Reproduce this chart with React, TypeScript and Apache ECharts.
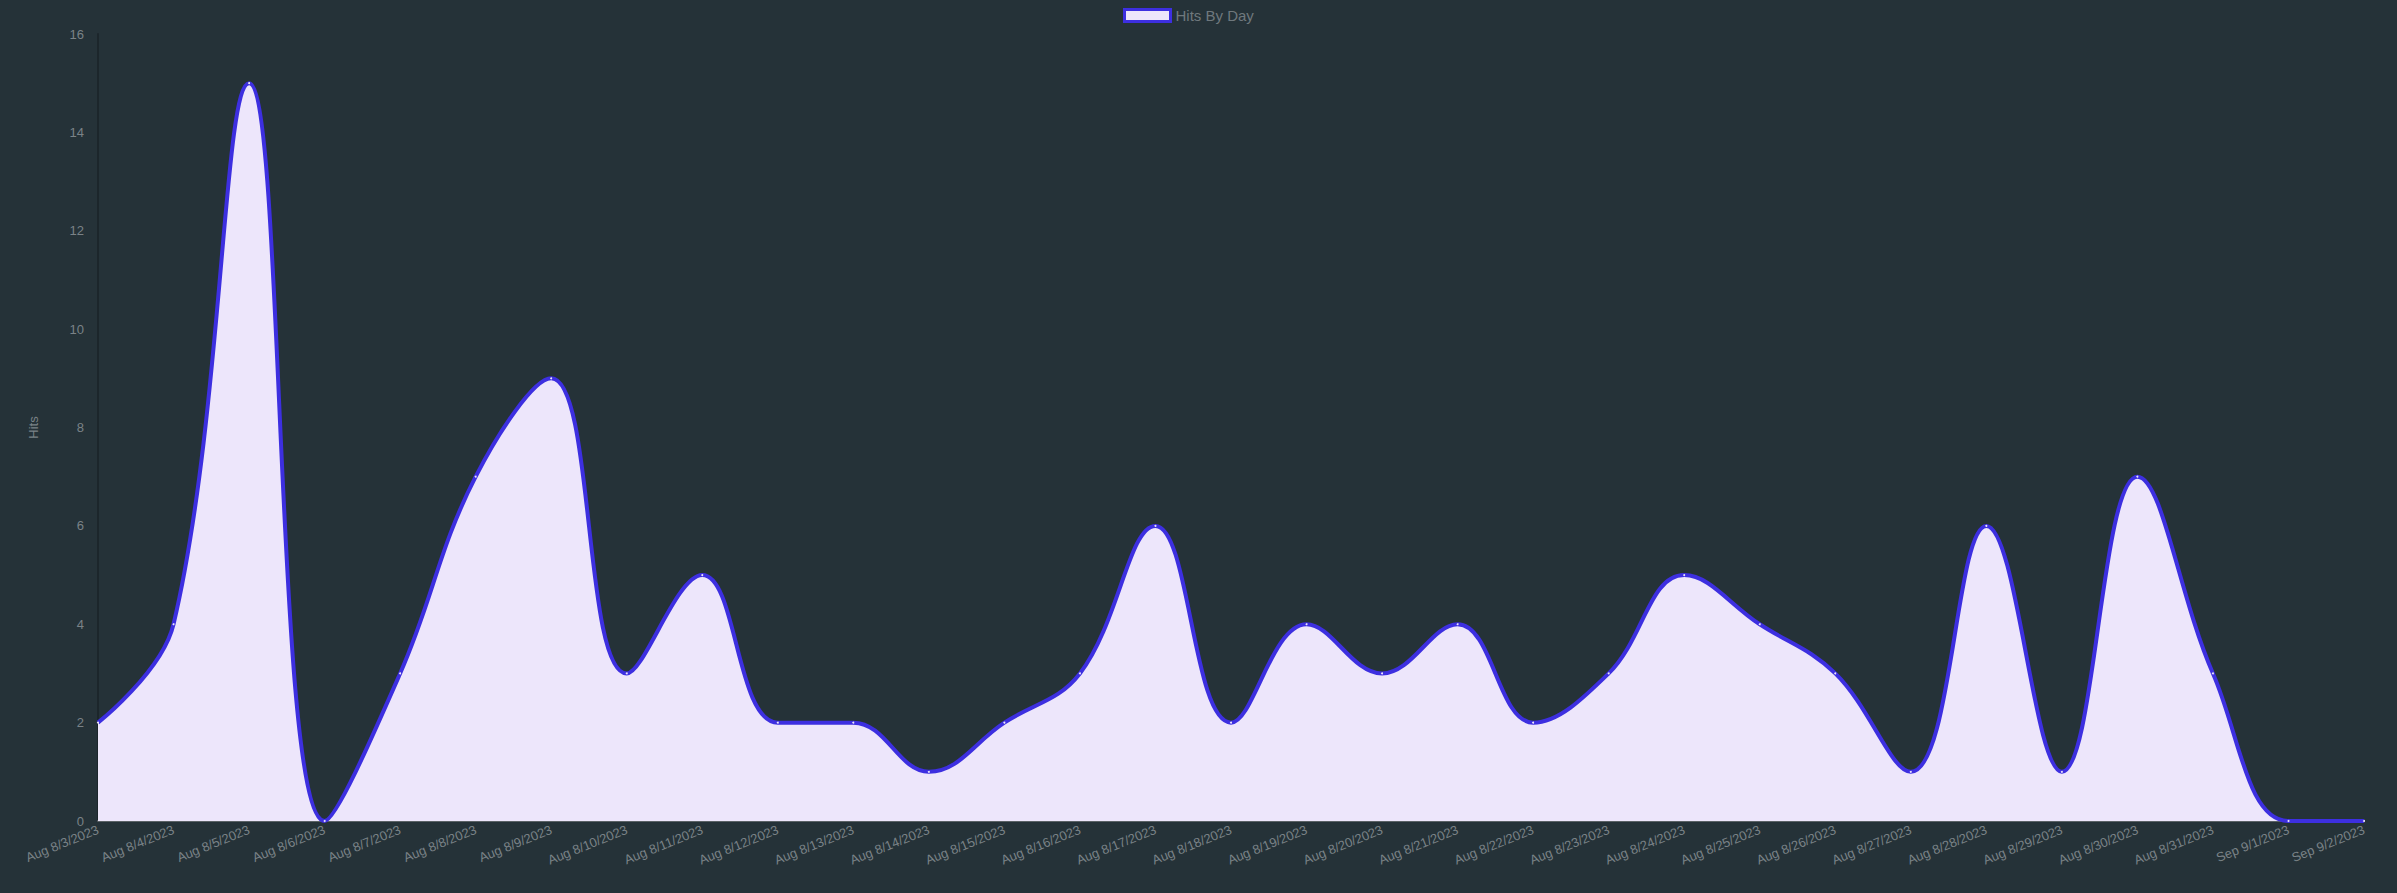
import React, { useEffect, useRef } from "react";
import * as echarts from "echarts";

const categories = [
  "Aug 8/3/2023", "Aug 8/4/2023", "Aug 8/5/2023", "Aug 8/6/2023", "Aug 8/7/2023",
  "Aug 8/8/2023", "Aug 8/9/2023", "Aug 8/10/2023", "Aug 8/11/2023", "Aug 8/12/2023",
  "Aug 8/13/2023", "Aug 8/14/2023", "Aug 8/15/2023", "Aug 8/16/2023", "Aug 8/17/2023",
  "Aug 8/18/2023", "Aug 8/19/2023", "Aug 8/20/2023", "Aug 8/21/2023", "Aug 8/22/2023",
  "Aug 8/23/2023", "Aug 8/24/2023", "Aug 8/25/2023", "Aug 8/26/2023", "Aug 8/27/2023",
  "Aug 8/28/2023", "Aug 8/29/2023", "Aug 8/30/2023", "Aug 8/31/2023", "Sep 9/1/2023",
  "Sep 9/2/2023",
];

const hits = [
  2, 4, 15, 0, 3,
  7, 9, 3, 5, 2,
  2, 1, 2, 3, 6,
  2, 4, 3, 4, 2,
  3, 5, 4, 3, 1,
  6, 1, 7, 3, 0,
  0,
];

const seriesName = "Hits By Day";
const yAxisName = "Hits";

export default function App() {
  const ref = useRef<HTMLDivElement>(null);

  useEffect(() => {
    document.body.style.margin = "0";
    document.body.style.background = "#253238";
    const chart = echarts.init(ref.current!, null, { renderer: "svg" });
    chart.setOption({
      animation: false,
      backgroundColor: "#253238",
      textStyle: { fontFamily: "Liberation Sans, Arial, sans-serif" },
      legend: {
        top: 3,
        left: 1118,
        itemWidth: 46,
        itemHeight: 12,
        itemGap: 10,
        icon: "rect",
        itemStyle: { color: "#ede6fb", borderColor: "#3d2fe0", borderWidth: 3 },
        textStyle: { color: "#6f787d", fontSize: 15 },
        data: [seriesName],
      },
      grid: { left: 98, right: 33, top: 34, bottom: 72, containLabel: false },
      xAxis: {
        type: "category",
        data: categories,
        boundaryGap: false,
        axisLine: { show: true, lineStyle: { color: "#5b6266", width: 2 } },
        axisTick: { show: false },
        splitLine: { show: false },
        axisLabel: {
          color: "#7a8287",
          fontSize: 13,
          rotate: 22,
          interval: 0,
          margin: 8,
        },
      },
      yAxis: {
        type: "value",
        min: 0,
        max: 16,
        interval: 2,
        name: yAxisName,
        nameLocation: "middle",
        nameGap: 58,
        nameTextStyle: { color: "#7a8287", fontSize: 13 },
        axisLine: { show: true, lineStyle: { color: "#1c262b", width: 2 } },
        axisTick: { show: false },
        splitLine: { show: false },
        axisLabel: { color: "#7a8287", fontSize: 13, margin: 14 },
      },
      series: [
        {
          name: seriesName,
          type: "line",
          data: hits,
          smooth: 0.4,
          symbol: "circle",
          symbolSize: 2,
          showSymbol: true,
          lineStyle: { color: "#3d2fe0", width: 4 },
          itemStyle: { color: "#ede6fb", borderColor: "#3d2fe0", borderWidth: 0 },
          areaStyle: { color: "#ede6fb", opacity: 1 },
        },
      ],
    });
    return () => chart.dispose();
  }, []);

  return <div ref={ref} style={{ width: 2397, height: 893 }} />;
}
